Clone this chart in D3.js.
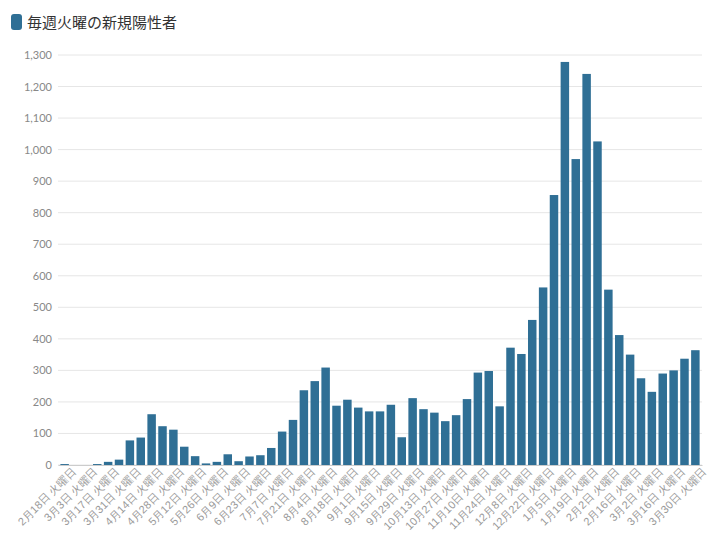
<!DOCTYPE html>
<html><head><meta charset="utf-8">
<script src="https://cdn.jsdelivr.net/npm/d3@7"></script>
<style>
body{margin:0;background:#fff;font-family:"Noto Sans CJK JP","Noto Sans",sans-serif;}
</style></head>
<body><div id="chart"></div>
<script>
// Weekly Tuesday dates and new positives
const dates = ["2月18日","2月25日","3月3日","3月10日","3月17日","3月24日","3月31日","4月7日","4月14日","4月21日",
  "4月28日","5月5日","5月12日","5月19日","5月26日","6月2日","6月9日","6月16日","6月23日","6月30日",
  "7月7日","7月14日","7月21日","7月28日","8月4日","8月11日","8月18日","8月25日","9月1日","9月8日",
  "9月15日","9月22日","9月29日","10月6日","10月13日","10月20日","10月27日","11月3日","11月10日","11月17日",
  "11月24日","12月1日","12月8日","12月15日","12月22日","12月29日","1月5日","1月12日","1月19日","1月26日",
  "2月2日","2月9日","2月16日","2月23日","3月2日","3月9日","3月16日","3月23日","3月30日"];
const positives = [3,0,0,3,10,17,78,87,161,123,
  112,58,28,5,10,34,12,27,31,54,
  106,143,237,266,309,188,207,182,170,170,
  191,88,212,177,166,139,158,209,293,298,
  186,372,352,460,563,856,1278,970,1240,1026,
  556,412,350,275,232,290,300,337,364];
const yTicks = d3.range(0, 1301, 100);
const title = "毎週火曜の新規陽性者";

const W = 720, H = 553;
const margin = {top: 55, right: 18, bottom: 88, left: 58};
const width = W - margin.left - margin.right, height = H - margin.top - margin.bottom;
const color = "#2f6f95";

const svg = d3.select("#chart").append("svg").attr("width", W).attr("height", H);

// Title with legend swatch
svg.append("rect").attr("x", 11).attr("y", 14).attr("width", 11).attr("height", 16).attr("rx", 3).attr("fill", color);
svg.append("text").attr("x", 27).attr("y", 28).attr("font-size", 15).attr("fill", "#333").text(title);

const g = svg.append("g").attr("transform", `translate(${margin.left},${margin.top})`);

const x = d3.scaleBand().domain(dates).range([0, width]).padding(0.22);
const y = d3.scaleLinear().domain([0, 1300]).range([height, 0]);

// Grid + y axis
g.append("g").selectAll("line").data(yTicks).join("line")
  .attr("x1", 0).attr("x2", width).attr("y1", d => y(d)).attr("y2", d => y(d))
  .attr("stroke", "#e6e6e6");
g.append("g").call(d3.axisLeft(y).tickValues(yTicks).tickSize(0).tickPadding(6))
  .call(a => a.select(".domain").remove())
  .selectAll("text").attr("fill", "#888").attr("font-size", 11).attr("font-family", "Lato, sans-serif");

// Bars
g.append("g").selectAll("rect").data(positives).join("rect")
  .attr("x", (d, i) => x(dates[i])).attr("width", x.bandwidth())
  .attr("y", d => y(d)).attr("height", d => height - y(d))
  .attr("fill", color);

// X axis
const xAxis = g.append("g").attr("transform", `translate(0,${height})`)
  .call(d3.axisBottom(x).tickValues(dates.filter((d, i) => i % 2 === 0)).tickSize(0).tickPadding(8)
    .tickFormat(d => d + " 火曜日"));
xAxis.select(".domain").attr("stroke", "#ccc");
xAxis.selectAll("text").attr("fill", "#999").attr("font-size", 11)
  .attr("text-anchor", "end").attr("dx", "0.3em").attr("dy", "0.5em")
  .attr("transform", "rotate(-45)");
</script>
</body></html>
